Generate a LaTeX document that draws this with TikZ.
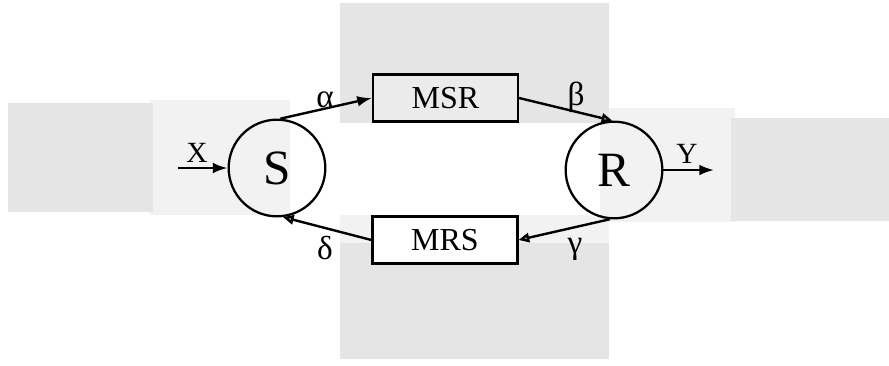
\documentclass[tikz,border=0pt]{standalone}
\usepackage{fontspec}
\setmainfont{Liberation Serif}
\usetikzlibrary{arrows.meta}
\begin{document}
\begin{tikzpicture}[x=0.75pt,y=-0.75pt,
  state/.style={circle,draw,line width=1.7pt,minimum size=72.5pt,inner sep=0pt,font=\fontsize{37}{37}\selectfont},
  memory/.style={rectangle,draw,line width=1.9pt,minimum width=108.5pt,minimum height=35.5pt,inner sep=0pt,font=\fontsize{24}{24}\selectfont},
  lbl/.style={inner sep=0pt,font=\fontsize{22}{22}\selectfont},
  glbl/.style={inner sep=0pt,font=\fontsize{25}{25}\selectfont},
  flow/.style={line width=1.8pt,-{Latex[length=11pt,width=8pt]}},
  back/.style={line width=1.8pt,-{Triangle[open,fill=black!30,length=8pt,width=7pt]}},
  patch/.style={draw=none,fill=black!10},
  lightpatch/.style={draw=none,fill=black!5}]
\useasboundingbox (0,0) rectangle (889,365);
% shaded background regions
\fill[lightpatch] (150,100) rectangle (290,215);
\fill[lightpatch] (600,108) rectangle (735,222);
\fill[patch] (8,103) rectangle (153,212);
\fill[patch] (731,118) rectangle (889,221);
\fill[patch] (340,3) rectangle (609,123);
\fill[patch] (340,243) rectangle (609,359);
\fill[lightpatch] (340,215) rectangle (609,243);
% nodes
\node[state] (S) at (277,168) {S};
\node[state] (R) at (614,170) {R};
\node[memory,fill=black!8] (MSR) at (445.5,98) {MSR};
\node[memory,fill=white] (MRS) at (445,240) {MRS};
\coordinate (xin) at (178,168);
\coordinate (yout) at (714,170);
% connectors
\draw[flow] (S.86) -- (MSR.west);
\draw[back] (MSR.east) -- (R.92);
\draw[back] (R.265) -- (MRS.east);
\draw[back] (MRS.west) -- (S.277);
\draw[flow] (xin) -- (S.west);
\draw[flow] (R.east) -- (yout);
% labels
\node[lbl] at (197,153) {X};
\node[lbl] at (687,154) {Y};
\node[glbl] at (325,100) {α};
\node[glbl] at (576,97) {β};
\node[glbl] at (575,249) {γ};
\node[glbl] at (325,248) {δ};
\end{tikzpicture}
\end{document}
